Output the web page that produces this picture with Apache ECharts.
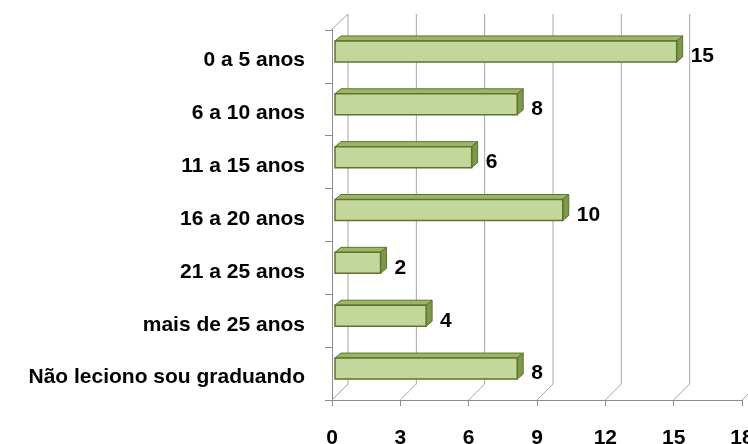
<!DOCTYPE html>
<html>
<head>
<meta charset="utf-8">
<script src="https://cdn.jsdelivr.net/npm/echarts@6/dist/echarts.min.js"></script>
<style>
  html, body { margin: 0; padding: 0; background: #fff; }
  #chart { width: 748px; height: 444px; }
</style>
</head>
<body>
<div id="chart"></div>
<script>
// Years of teaching experience, top to bottom
const categories = [
  '0 a 5 anos',
  '6 a 10 anos',
  '11 a 15 anos',
  '16 a 20 anos',
  '21 a 25 anos',
  'mais de 25 anos',
  'Não leciono sou graduando'
];
const counts = [15, 8, 6, 10, 2, 4, 8];
const xTicks = [0, 3, 6, 9, 12, 15, 18];

// depth of the 3D box (back wall offset) and of each bar
const WALL_DX = 16, WALL_DY = 16;
const BAR_DX = 6, BAR_DY = 5;
const FONT = '"Liberation Sans", Arial, sans-serif';
const GRID_COLOR = '#a6a6a6';
const AXIS_COLOR = '#8c8c8c';

const chart = echarts.init(document.getElementById('chart'), null, { renderer: 'canvas' });

// back wall gridlines, floor diagonals and the left wall edge
function renderFrame(params, api) {
  const cs = params.coordSys;
  const v = api.value(0);
  const x = api.coord([v, 0])[0];
  const floorY = cs.y + cs.height;
  const children = [
    { type: 'line', shape: { x1: x + WALL_DX, y1: cs.y - WALL_DY, x2: x + WALL_DX, y2: floorY - WALL_DY },
      style: { stroke: GRID_COLOR, lineWidth: 1 } },
    { type: 'line', shape: { x1: x, y1: floorY, x2: x + WALL_DX, y2: floorY - WALL_DY },
      style: { stroke: GRID_COLOR, lineWidth: 1 } }
  ];
  if (v === xTicks[0]) {
    children.push({ type: 'line', shape: { x1: x - 1, y1: cs.y, x2: x + WALL_DX, y2: cs.y - WALL_DY },
      style: { stroke: GRID_COLOR, lineWidth: 1 } });
  }
  return { type: 'group', children: children };
}

// one box-shaped bar: front face, top face, right side face
function renderBar(params, api) {
  const idx = api.value(0);
  const val = api.value(1);
  const start = api.coord([0, idx]);
  const end = api.coord([val, idx]);
  const x0 = start[0] + 3;
  const x1 = end[0] + 3;
  const faceH = 21;
  const yTop = start[1] - 5 - faceH / 2;
  const yBot = yTop + faceH;
  const stroke = '#5d7331';
  return {
    type: 'group',
    children: [
      { type: 'polygon', shape: { points: [[x0, yTop], [x0 + BAR_DX, yTop - BAR_DY], [x1 + BAR_DX, yTop - BAR_DY], [x1, yTop]] },
        style: { fill: '#9cb565', stroke: stroke, lineWidth: 1 } },
      { type: 'polygon', shape: { points: [[x1, yTop], [x1 + BAR_DX, yTop - BAR_DY], [x1 + BAR_DX, yBot - BAR_DY], [x1, yBot]] },
        style: { fill: '#7d9847', stroke: stroke, lineWidth: 1 } },
      { type: 'rect', shape: { x: x0, y: yTop, width: x1 - x0, height: faceH },
        style: { fill: '#c4d79b', stroke: stroke, lineWidth: 1.5 } },
      { type: 'text', style: { x: x1 + BAR_DX + 8, y: start[1], text: String(val),
        font: 'bold 21px ' + FONT, fill: '#000', verticalAlign: 'middle', align: 'left' } }
    ]
  };
}

chart.setOption({
  animation: false,
  backgroundColor: '#fff',
  grid: { left: 332, right: 6, top: 30, bottom: 44, containLabel: false, outerBoundsMode: 'none' },
  xAxis: {
    type: 'value', min: 0, max: 18, interval: 3,
    axisLine: { show: true, lineStyle: { color: AXIS_COLOR } },
    axisTick: { show: true, length: 6, lineStyle: { color: AXIS_COLOR } },
    splitLine: { show: false },
    axisLabel: { fontFamily: FONT, fontWeight: 'bold', fontSize: 21, color: '#000', margin: 28,
      hideOverlap: false, showMaxLabel: true, showMinLabel: true }
  },
  yAxis: {
    type: 'category', data: categories, inverse: true,
    axisLine: { show: true, lineStyle: { color: AXIS_COLOR } },
    axisTick: { show: true, length: 7, lineStyle: { color: AXIS_COLOR } },
    axisLabel: { color: '#000', margin: 27,
      formatter: function (v) { return '{t|' + v + '}'; },
      rich: { t: { fontFamily: FONT, fontWeight: 'bold', fontSize: 21, color: '#000', padding: [8, 0, 0, 0] } } }
  },
  series: [
    { type: 'custom', name: 'frame', renderItem: renderFrame, data: xTicks.map(function (t) { return [t]; }),
      encode: { x: 0 }, silent: true, clip: false, z: 1 },
    { type: 'custom', name: 'Professores', renderItem: renderBar,
      data: counts.map(function (c, i) { return [i, c]; }),
      encode: { y: 0, x: 1 }, clip: false, z: 3 }
  ]
});
</script>
</body>
</html>
